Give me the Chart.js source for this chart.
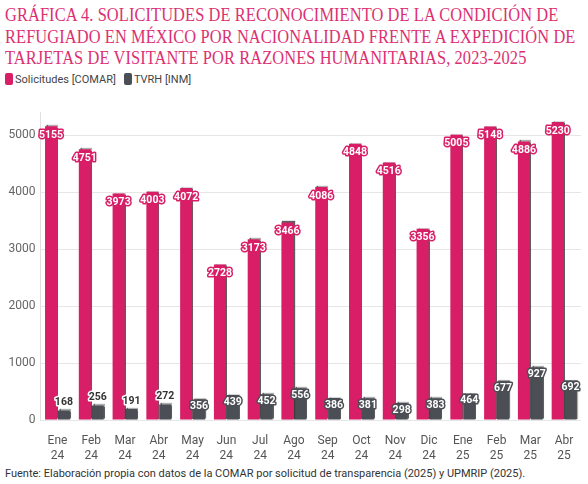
<!DOCTYPE html>
<html lang="es">
<head>
  <meta charset="UTF-8">
  <title>Gráfica 4</title>
  <script src="https://cdn.jsdelivr.net/npm/chart.js"></script>
  <style>
    html, body { margin: 0; padding: 0; background: #fff; }
    body { width: 588px; height: 484px; position: relative; overflow: hidden; font-family: Roboto, "Open Sans", sans-serif; }
    #title { position: absolute; left: 5px; top: 5px; width: 580px; font-family: "Liberation Serif", serif; font-size: 16.4px; line-height: 18.6px; color: #dc2f72; letter-spacing: 0.1px; transform: scaleY(1.16); transform-origin: 0 0; white-space: nowrap; }
    #legend { position: absolute; left: 5px; top: 73px; font-size: 11px; color: #444; display: flex; gap: 8px; }
    #legend span.sw { display: inline-block; width: 8px; height: 12px; border-radius: 2px; margin-right: 2px; vertical-align: -2px; }
    #wrap { position: absolute; left: 0; top: 100px; width: 588px; height: 365px; }
    #footer { position: absolute; left: 5px; top: 467px; font-size: 11px; color: #333; }
  </style>
</head>
<body>
  <div id="title">GRÁFICA 4. SOLICITUDES DE RECONOCIMIENTO DE LA CONDICIÓN DE<br>REFUGIADO EN MÉXICO POR NACIONALIDAD FRENTE A EXPEDICIÓN DE<br>TARJETAS DE VISITANTE POR RAZONES HUMANITARIAS, 2023-2025</div>
  <div id="legend"></div>
  <div id="wrap"><canvas id="chart" width="588" height="365"></canvas></div>
  <div id="footer">Fuente: Elaboración propia con datos de la COMAR por solicitud de transparencia (2025) y UPMRIP (2025).</div>

  <script>
    const months = ['Ene','Feb','Mar','Abr','May','Jun','Jul','Ago','Sep','Oct','Nov','Dic','Ene','Feb','Mar','Abr'];
    const years = ['24','24','24','24','24','24','24','24','24','24','24','24','25','25','25','25'];
    const comar = [5155, 4751, 3973, 4003, 4072, 2728, 3173, 3466, 4086, 4848, 4516, 3356, 5005, 5148, 4886, 5230];
    const tvrh = [168, 256, 191, 272, 356, 439, 452, 556, 386, 381, 298, 383, 464, 677, 927, 692];
    const seriesNames = ['Solicitudes [COMAR]', 'TVRH [INM]'];
    const seriesColors = ['#d81e66', '#4b4f55'];
    const yTicks = [0, 1000, 2000, 3000, 4000, 5000];

    // html legend
    const legend = document.getElementById('legend');
    seriesNames.forEach((name, i) => {
      const item = document.createElement('div');
      item.innerHTML = `<span class="sw" style="background:${seriesColors[i]}"></span>${name}`;
      legend.appendChild(item);
    });

    const barShadow = {
      id: 'barShadow',
      beforeDatasetDraw(chart) {
        const ctx = chart.ctx;
        ctx.save();
        ctx.shadowColor = 'rgba(40,40,40,0.75)';
        ctx.shadowOffsetX = 1;
        ctx.shadowOffsetY = -1;
        ctx.shadowBlur = 1;
      },
      afterDatasetDraw(chart) {
        chart.ctx.restore();
      }
    };

    const valueLabels = {
      id: 'valueLabels',
      afterDatasetsDraw(chart) {
        const ctx = chart.ctx;
        ctx.save();
        ctx.font = 'bold 10.5px Roboto, sans-serif';
        ctx.textAlign = 'center';
        ctx.textBaseline = 'middle';
        ctx.lineJoin = 'round';
        chart.data.datasets.forEach((ds, di) => {
          chart.getDatasetMeta(di).data.forEach((bar, i) => {
            const txt = String(ds.data[i]);
            const h = bar.base - bar.y;
            let y, fill, stroke;
            if (di === 0) {
              y = bar.y + 9; fill = '#fff'; stroke = seriesColors[0];
            } else if (h < 16) {
              y = bar.y - 8; fill = '#333'; stroke = '#fff';
            } else {
              y = bar.y + 7; fill = '#fff'; stroke = seriesColors[1];
            }
            ctx.lineWidth = 3;
            ctx.strokeStyle = stroke;
            ctx.strokeText(txt, bar.x, y);
            ctx.fillStyle = fill;
            ctx.fillText(txt, bar.x, y);
          });
        });
        ctx.restore();
      }
    };

    new Chart(document.getElementById('chart'), {
      type: 'bar',
      data: {
        labels: months.map((m, i) => [m, years[i]]),
        datasets: [
          { label: seriesNames[0], data: comar, backgroundColor: seriesColors[0] },
          { label: seriesNames[1], data: tvrh, backgroundColor: seriesColors[1] }
        ]
      },
      options: {
        responsive: false,
        animation: false,
        layout: { padding: { top: 10, right: 7, left: 0, bottom: 0 } },
        datasets: { bar: { categoryPercentage: 0.76, barPercentage: 0.94 } },
        plugins: { legend: { display: false }, tooltip: { enabled: false } },
        scales: {
          x: {
            grid: { display: false },
            border: { display: false },
            ticks: { color: '#555', font: { family: 'Roboto', size: 12 }, padding: 6, maxRotation: 0 },
            afterFit(scale) { scale.height = 45; }
          },
          y: {
            min: 0,
            max: 5400,
            afterBuildTicks(scale) { scale.ticks = yTicks.map(v => ({ value: v })); },
            grid: { color: '#e6e6e6', drawTicks: false },
            border: { display: true, color: '#e0e0e0' },
            ticks: { color: '#666', font: { family: 'Roboto', size: 12 }, padding: 5, callback: v => String(v) },
            afterFit(scale) { scale.width = 40.6; }
          }
        }
      },
      plugins: [barShadow, valueLabels]
    });
  </script>
</body>
</html>
